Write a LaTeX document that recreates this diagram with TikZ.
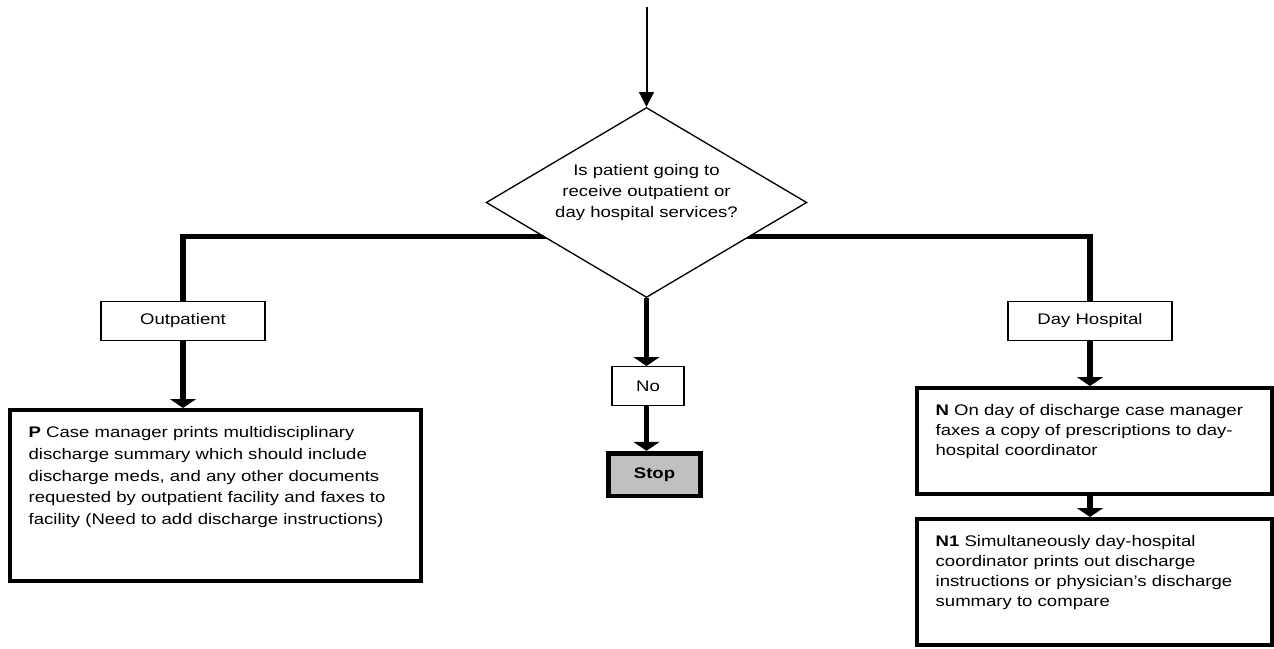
\documentclass[tikz,border=0pt]{standalone}
\usepackage{fontspec}
\setmainfont[FakeStretch=1.21]{Liberation Sans}
\usetikzlibrary{shapes.geometric,arrows.meta}

\definecolor{stopgray}{HTML}{C0C0C0}
\newcommand{\chartfont}{\fontsize{11.5}{15.5}\selectfont}
\newcommand{\steptext}[4][15pt]{\parbox[c][#3][t]{#2}{\fontsize{11.5}{#1}\selectfont #4}}

\begin{document}
\begin{tikzpicture}[x=0.75pt,y=-0.75pt,
        choice/.style={draw,line width=1pt,font=\chartfont,minimum width=123pt,minimum height=29pt,inner sep=0pt},
        stepbox/.style={draw,line width=3pt,inner xsep=14pt,inner ysep=12.4pt},
        stopbox/.style={draw,line width=3.5pt,fill=stopgray,font=\chartfont\bfseries,minimum width=69pt,minimum height=32pt,inner sep=0pt},
        decision/.style={diamond,draw,line width=1pt,fill=white,aspect=1.686,inner sep=0pt,
          minimum width=240.5pt,minimum height=142.5pt,align=center,font=\chartfont},
        flow/.style={line width=3.8pt},
        flowarrow/.style={flow,-{Triangle[width=19.5pt,length=6.75pt]}},
        feed/.style={line width=1.5pt,-{Triangle[width=11pt,length=11pt]}}]
        \useasboundingbox (0,0) rectangle (1274,649);

        \node[choice] (out) at (183,321) {Outpatient};
        \node[choice] (day) at (1090,321) {Day Hospital};

        \coordinate (split) at (646.5,236.5);
        \draw[flow] (out.north) |- (split) -| (day.north);

        \coordinate (start) at (646.5,7);
        \node[decision,text depth=17.2pt] (q) at (646.5,202.5) {Is patient going to\\receive outpatient or\\day hospital services?};
        \draw[feed] (start) -- (q.north);

        \node[choice,minimum width=54pt] (no) at (648,386) {No};
        \node[stopbox] (stop) at (654.5,474.5) {Stop};
        \draw[flowarrow] (q.south) -- (q.south |- no.north);
        \draw[flowarrow] (q.south |- no.south) -- (q.south |- stop.north);

        \node[stepbox] (p) at (215.5,495.5) {\steptext[16.3pt]{280.25pt}{103.45pt}{\textbf{P} Case manager prints multidisciplinary\\discharge summary which should include\\discharge meds, and any other documents\\requested by outpatient facility and faxes to\\facility (Need to add discharge instructions)}};
        \draw[flowarrow] (out.south) -- (out.south |- p.north);

        \node[stepbox] (n) at (1094.5,441) {\steptext{238.25pt}{54.7pt}{\textbf{N} On day of discharge case manager\\faxes a copy of prescriptions to day-\\hospital coordinator}};
        \node[stepbox] (n1) at (1094.5,582) {\steptext{238.25pt}{69.7pt}{\textbf{N1} Simultaneously day-hospital\\coordinator prints out discharge\\instructions or physician’s discharge\\summary to compare}};
        \draw[flowarrow] (day.south) -- (day.south |- n.north);
        \draw[flowarrow] (day.south |- n.south) -- (day.south |- n1.north);
\end{tikzpicture}
\end{document}
